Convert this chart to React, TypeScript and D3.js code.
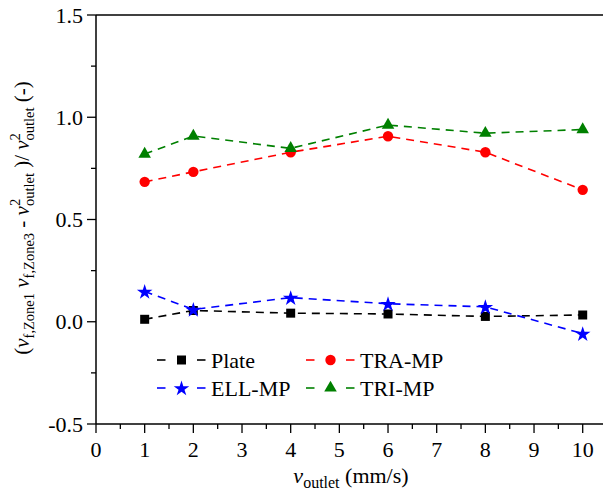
import React from "react";
import * as d3 from "d3";

const xValues = [1, 2, 4, 6, 8, 10];
const plateValues = [0.012, 0.055, 0.042, 0.038, 0.026, 0.033];
const traValues = [0.684, 0.733, 0.829, 0.907, 0.829, 0.645];
const ellValues = [0.148, 0.06, 0.118, 0.088, 0.073, -0.058];
const triValues = [0.82, 0.908, 0.848, 0.962, 0.922, 0.94];
const xTicks = [0, 1, 2, 3, 4, 5, 6, 7, 8, 9, 10];
const yTicks = [-0.5, 0, 0.5, 1.0, 1.5];

const series = [
  { name: "Plate", values: plateValues, color: "#000000", marker: "square" },
  { name: "TRA-MP", values: traValues, color: "#ff0000", marker: "circle" },
  { name: "ELL-MP", values: ellValues, color: "#0000ff", marker: "star" },
  { name: "TRI-MP", values: triValues, color: "#008000", marker: "triangle" },
];

const W = 603;
const H = 493;
const left = 96;
const top = 15;
const bottom = 424;
const font = "Liberation Serif, Times New Roman, serif";
const ts = { fontFamily: font };
const FS = 22;
const SFS = 16;
const LFS = 21;
const LSFS = 14.5;

function Marker({ type, x, y, color }: { type: string; x: number; y: number; color: string }) {
  if (type === "square") {
    const s = d3.symbol().type(d3.symbolSquare).size(81)();
    return <path d={s!} transform={`translate(${x},${y})`} fill={color} />;
  }
  if (type === "circle") {
    return <circle cx={x} cy={y} r={5.2} fill={color} />;
  }
  if (type === "star") {
    const s = d3.symbol().type(d3.symbolStar).size(75)();
    return <path d={s!} transform={`translate(${x},${y + 0.7})`} fill={color} />;
  }
  const s = d3.symbol().type(d3.symbolTriangle).size(68)();
  return <path d={s!} transform={`translate(${x},${y})`} fill={color} />;
}

export default function App() {
  const x = d3.scaleLinear().domain([0, 10]).range([left, 582.7]);
  const y = d3.scaleLinear().domain([-0.5, 1.5]).range([bottom, top]);
  const line = d3
    .line<[number, number]>()
    .x((d) => x(d[0]))
    .y((d) => y(d[1]));

  const xMinor = d3.range(0.5, 11, 1);
  const yMinor = [-0.25, 0.25, 0.75, 1.25];

  const legend = [
    { s: series[0], lx: 157, ly: 360 },
    { s: series[1], lx: 306, ly: 360 },
    { s: series[2], lx: 157, ly: 388 },
    { s: series[3], lx: 306, ly: 388 },
  ];

  return (
    <svg
      width={W}
      height={H}
      style={{ position: "absolute", left: 0, top: 0, background: "#fff", fontFamily: font }}
    >
      <rect width={W} height={H} fill="#fff" />
      <line x1={left} x2={W + 5} y1={top} y2={top} stroke="#000" strokeWidth={1.5} />
      <line x1={left} x2={W + 5} y1={bottom} y2={bottom} stroke="#000" strokeWidth={1.5} />
      <line x1={left} x2={left} y1={top} y2={bottom} stroke="#000" strokeWidth={1.5} />

      {xTicks.map((t) => (
        <g key={"xt" + t}>
          <line x1={x(t)} x2={x(t)} y1={bottom} y2={bottom + 9} stroke="#000" strokeWidth={1.3} />
          <text x={x(t)} y={bottom + 33} fontSize={FS} textAnchor="middle" style={ts}>
            {t}
          </text>
        </g>
      ))}
      {xMinor.map((t) => (
        <line key={"xm" + t} x1={x(t)} x2={x(t)} y1={bottom} y2={bottom + 5} stroke="#000" strokeWidth={1.3} />
      ))}

      {yTicks.map((t) => (
        <g key={"yt" + t}>
          <line x1={left - 9} x2={left} y1={y(t)} y2={y(t)} stroke="#000" strokeWidth={1.3} />
          <text x={left - 13} y={y(t) + 7.5} fontSize={FS} textAnchor="end" style={ts}>
            {t.toFixed(1)}
          </text>
        </g>
      ))}
      {yMinor.map((t) => (
        <line key={"ym" + t} x1={left - 5} x2={left} y1={y(t)} y2={y(t)} stroke="#000" strokeWidth={1.3} />
      ))}

      {series.map((s) => {
        const pts = xValues.map((xv, i) => [xv, s.values[i]] as [number, number]);
        return (
          <g key={s.name}>
            <path d={line(pts)!} fill="none" stroke={s.color} strokeWidth={1.6} strokeDasharray="8,6" />
            {pts.map((p, i) => (
              <Marker key={i} type={s.marker} x={x(p[0])} y={y(p[1])} color={s.color} />
            ))}
          </g>
        );
      })}

      {legend.map(({ s, lx, ly }) => (
        <g key={"lg" + s.name}>
          <line x1={lx} x2={lx + 8.5} y1={ly} y2={ly} stroke={s.color} strokeWidth={1.6} />
          <line x1={lx + 40} x2={lx + 48.5} y1={ly} y2={ly} stroke={s.color} strokeWidth={1.6} />
          <Marker type={s.marker} x={lx + 24.5} y={ly} color={s.color} />
          <text x={lx + 54} y={ly + 7.5} fontSize={FS} style={ts}>
            {s.name}
          </text>
        </g>
      ))}

      <text x={351} y={483} fontSize={FS} textAnchor="middle" style={ts}>
        <tspan fontStyle="italic">v</tspan>
        <tspan fontSize={SFS} dy={5}>outlet</tspan>
        <tspan dy={-5}> (mm/s)</tspan>
      </text>

      <text transform="translate(29,218) rotate(-90)" fontSize={LFS} textAnchor="middle" style={ts}>
        <tspan>(</tspan>
        <tspan fontStyle="italic">v</tspan>
        <tspan fontSize={LSFS} dy={5}>f,Zone1</tspan>
        <tspan dy={-5}> </tspan>
        <tspan fontStyle="italic">v</tspan>
        <tspan fontSize={LSFS} dy={5}>f,Zone3</tspan>
        <tspan dy={-5}> - </tspan>
        <tspan fontStyle="italic">v</tspan>
        <tspan fontSize={LSFS} dy={-9}>2</tspan>
        <tspan fontSize={LSFS} dx={-7.3} dy={14}>outlet</tspan>
        <tspan dy={-5}> )/ </tspan>
        <tspan fontStyle="italic">v</tspan>
        <tspan fontSize={LSFS} dy={-9}>2</tspan>
        <tspan fontSize={LSFS} dx={-7.3} dy={14}>outlet</tspan>
        <tspan dy={-5}> (-)</tspan>
      </text>
    </svg>
  );
}
